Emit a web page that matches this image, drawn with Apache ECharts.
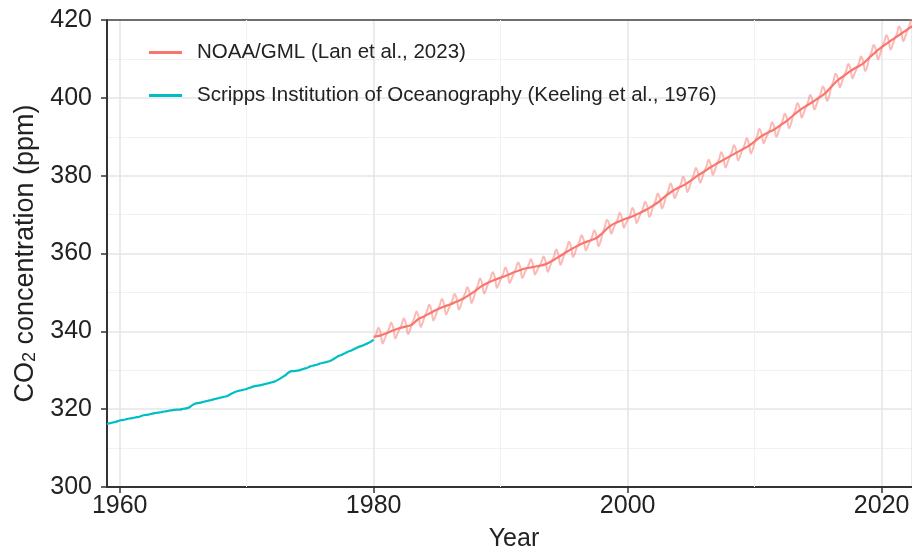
<!DOCTYPE html>
<html>
<head>
<meta charset="utf-8">
<script src="https://cdn.jsdelivr.net/npm/echarts@6/dist/echarts.min.js"></script>
<style>
html,body{margin:0;padding:0;background:#fff;}
#chart{width:912px;height:554px;}
</style>
</head>
<body>
<div id="chart"></div>
<script>
// ---- Data ----
const seriesNames = ['NOAA/GML (Lan et al., 2023)', 'Scripps Institution of Oceanography (Keeling et al., 1976)'];

// Scripps record, quarterly, starting 1959.0
const scrippsStart = 1959;
const scrippsStep = 0.25;
const scrippsValues = [
  316.2,316.4,316.6,316.8, 317.1,317.2,317.4,317.6, 317.7,317.9,318.0,318.3,
  318.5,318.6,318.8,319.0, 319.1,319.2,319.4,319.5, 319.7,319.8,319.9,319.9,
  320.1,320.2,320.5,321.1, 321.5,321.6,321.8,322.0, 322.2,322.4,322.6,322.8,
  323.0,323.2,323.4,323.9, 324.3,324.6,324.8,325.0, 325.2,325.5,325.8,326.0,
  326.1,326.3,326.5,326.7, 326.9,327.2,327.6,328.1, 328.6,329.3,329.8,329.8,
  329.9,330.1,330.4,330.6, 331.0,331.2,331.4,331.7, 331.9,332.1,332.3,332.7,
  333.2,333.7,334.0,334.4, 334.8,335.1,335.5,335.9, 336.2,336.5,336.9,337.3,
  337.9
];

// NOAA/GML de-seasonalised trend, half-yearly, starting 1980.0
const noaaTrendStart = 1980;
const noaaTrendStep = 0.5;
const noaaTrend = [
  338.6,338.9, 339.5,340.2, 340.8,341.2, 341.7,343.1, 343.9,344.8,
  345.6,346.3, 346.9,347.6, 348.3,349.3, 350.4,351.6, 352.5,353.2,
  353.8,354.4, 355.1,355.7, 356.2,356.5, 356.8,357.2, 358.0,359.0,
  360.0,361.0, 361.9,362.7, 363.3,363.9, 365.2,366.8, 367.8,368.5,
  369.1,369.7, 370.5,371.3, 372.3,373.4, 374.8,376.0, 376.9,377.7,
  378.8,380.0, 381.0,382.1, 383.1,384.0, 384.9,385.8, 386.7,387.6,
  388.8,390.1, 391.0,391.8, 392.9,394.0, 395.4,396.7, 397.8,398.8,
  399.9,401.0, 402.7,404.4, 405.6,406.8, 407.8,408.7, 410.2,411.7,
  413.0,414.2, 415.3,416.4, 417.5,418.6, 419.8,421.1
];

// NOAA/GML monthly means with seasonal cycle, every other month (Jan, Mar, May, Jul, Sep, Nov)
const noaaRawStart = 1980 + 1 / 24;
const noaaRawStep = 1 / 6;
const noaaRaw = [
  338.2,339.4,340.9,339.6,336.9,338.1, // 1980
  339.5,340.7,342.2,340.9,338.2,339.4, // 1981
  340.6,341.8,343.3,342.0,339.3,340.5, // 1982
  342.3,343.5,345.1,343.8,341.1,342.4, // 1983
  344.1,345.3,346.8,345.5,342.8,344.0, // 1984
  345.6,346.8,348.3,347.0,344.3,345.5, // 1985
  346.9,348.1,349.6,348.3,345.6,346.8, // 1986
  348.6,349.8,351.3,350.0,347.3,348.6, // 1987
  350.6,351.9,353.6,352.3,349.7,351.0, // 1988
  352.5,353.7,355.2,353.9,351.2,352.4, // 1989
  353.7,354.9,356.4,355.1,352.4,353.6, // 1990
  355.0,356.2,357.7,356.4,353.7,354.9, // 1991
  356.1,357.1,358.5,357.2,354.6,355.7, // 1992
  356.8,357.8,359.2,357.9,355.3,356.5, // 1993
  358.1,359.3,361.0,359.7,357.1,358.4, // 1994
  360.1,361.3,363.0,361.7,359.1,360.4, // 1995
  361.9,363.1,364.7,363.4,360.8,362.0, // 1996
  363.2,364.4,365.9,364.6,361.9,363.2, // 1997
  365.4,366.9,368.6,367.6,365.1,366.4, // 1998
  367.6,368.8,370.5,369.2,366.6,367.9, // 1999
  368.8,370.0,371.7,370.4,367.8,369.1, // 2000
  370.4,371.6,373.3,372.0,369.4,370.7, // 2001
  372.4,373.7,375.4,374.1,371.6,372.9, // 2002
  374.9,376.3,378.0,376.7,374.2,375.5, // 2003
  376.8,378.0,379.7,378.4,375.8,377.1, // 2004
  379.0,380.3,382.0,380.7,378.2,379.5, // 2005
  381.2,382.4,384.1,382.8,380.2,381.5, // 2006
  383.1,384.3,386.0,384.7,382.1,383.4, // 2007
  384.9,386.1,387.8,386.5,383.9,385.2, // 2008
  386.7,387.9,389.6,388.3,385.7,387.0, // 2009
  389.0,390.3,392.0,390.8,388.3,389.6, // 2010
  390.7,392.0,393.7,392.5,390.0,391.3, // 2011
  392.9,394.2,395.9,394.7,392.2,393.5, // 2012
  395.6,396.9,398.6,397.4,394.9,396.2, // 2013
  397.7,399.0,400.7,399.5,397.0,398.3, // 2014
  399.9,401.2,402.9,401.7,399.2,400.5, // 2015
  402.9,404.4,406.2,405.1,402.7,404.1, // 2016
  405.7,407.0,408.7,407.5,405.0,406.3, // 2017
  407.6,408.9,410.6,409.4,406.9,408.2, // 2018
  410.5,411.9,413.6,412.4,409.9,411.2, // 2019
  413.1,414.4,416.1,414.9,412.4,413.7, // 2020
  415.3,416.6,418.3,417.1,414.6,415.9, // 2021
  417.5,418.8,420.5,419.3,416.8,418.1, // 2022
  420.0,421.3,423.0,421.8,419.3,420.6  // 2023
];

const minorYearGrid = [1970, 1990, 2010];

// ---- Build series data ----
function toPairs(start, step, values) {
  return values.map((v, i) => [start + i * step, v]);
}

const chart = echarts.init(document.getElementById('chart'), null, {renderer: 'canvas'});
const FONT = 'Liberation Sans, Arial, Helvetica, sans-serif';
const NOAA = '#F8766D';
const SIO = '#00BFC4';
const X_MIN = 1959, X_MAX = 2022.39;

chart.setOption({
  animation: false,
  backgroundColor: '#ffffff',
  textStyle: {fontFamily: FONT},
  grid: {left: 107, top: 20, bottom: 67, right: 0, show: false, containLabel: false, outerBoundsMode: 'none'},
  legend: {
    data: seriesNames,
    orient: 'vertical',
    left: 149, top: 42,
    padding: 0,
    itemWidth: 33, itemHeight: 3,
    itemGap: 22,
    icon: 'rect',
    textStyle: {fontFamily: FONT, fontSize: 20.5, color: '#222', padding: [0, 0, 0, 10]}
  },
  xAxis: [
    {
      type: 'value',
      min: X_MIN, max: X_MAX,
      splitNumber: 3,
      name: 'Year',
      nameLocation: 'middle',
      nameGap: 40,
      nameTextStyle: {fontFamily: FONT, fontSize: 25, color: '#222', padding: [0, 0, 0, 9]},
      axisLine: {show: true, onZero: false, lineStyle: {color: '#333', width: 2}},
      axisTick: {show: true, length: 6, lineStyle: {color: '#333', width: 1.5}},
      axisLabel: {
        fontFamily: FONT, fontSize: 25, color: '#222', margin: 7,
        showMinLabel: false, showMaxLabel: false,
        formatter: v => String(Math.round(v))
      },
      splitLine: {show: true, lineStyle: {color: '#e6e6e6', width: 1.6}},
      minorTick: {show: false},
      minorSplitLine: {show: false}
    },
    {
      type: 'value',
      position: 'top',
      min: X_MIN, max: X_MAX,
      axisLine: {show: true, onZero: false, lineStyle: {color: '#444', width: 1.5}},
      axisTick: {show: false},
      axisLabel: {show: false},
      splitLine: {show: false}
    }
  ],
  yAxis: {
    type: 'value',
    min: 300, max: 420, interval: 20,
    name: 'CO{sub|2} concentration (ppm)',
    nameLocation: 'middle',
    nameGap: 68,
    nameRotate: 90,
    nameTextStyle: {
      fontFamily: FONT, fontSize: 27, color: '#222',
      rich: {sub: {fontFamily: FONT, fontSize: 18, color: '#222', verticalAlign: 'bottom'}}
    },
    axisLine: {show: true, onZero: false, lineStyle: {color: '#333', width: 2}},
    axisTick: {show: true, length: 6, lineStyle: {color: '#333', width: 1.5}},
    axisLabel: {fontFamily: FONT, fontSize: 25, color: '#222', margin: 15},
    splitLine: {show: true, lineStyle: {color: '#e6e6e6', width: 1.6}},
    minorTick: {show: false, splitNumber: 2},
    minorSplitLine: {show: true, lineStyle: {color: '#f1f1f1', width: 1}}
  },
  series: [
    {
      name: 'minor-grid',
      type: 'line',
      data: [],
      silent: true,
      z: 1,
      markLine: {
        silent: true,
        z: 1,
        symbol: 'none',
        label: {show: false},
        emphasis: {disabled: true},
        lineStyle: {color: '#f1f1f1', width: 1, type: 'solid'},
        data: minorYearGrid.map(y => ({xAxis: y}))
      }
    },
    {
      name: 'NOAA raw',
      type: 'line',
      data: toPairs(noaaRawStart, noaaRawStep, noaaRaw),
      showSymbol: false,
      smooth: 0.4,
      z: 3,
      lineStyle: {color: NOAA, width: 2, opacity: 0.5},
      itemStyle: {color: NOAA}
    },
    {
      name: seriesNames[0],
      type: 'line',
      data: toPairs(noaaTrendStart, noaaTrendStep, noaaTrend),
      showSymbol: false,
      smooth: 0.3,
      z: 4,
      lineStyle: {color: NOAA, width: 2.2},
      itemStyle: {color: NOAA}
    },
    {
      name: seriesNames[1],
      type: 'line',
      data: toPairs(scrippsStart, scrippsStep, scrippsValues),
      showSymbol: false,
      smooth: 0.2,
      z: 4,
      lineStyle: {color: SIO, width: 2.2},
      itemStyle: {color: SIO}
    }
  ]
});
</script>
</body>
</html>
